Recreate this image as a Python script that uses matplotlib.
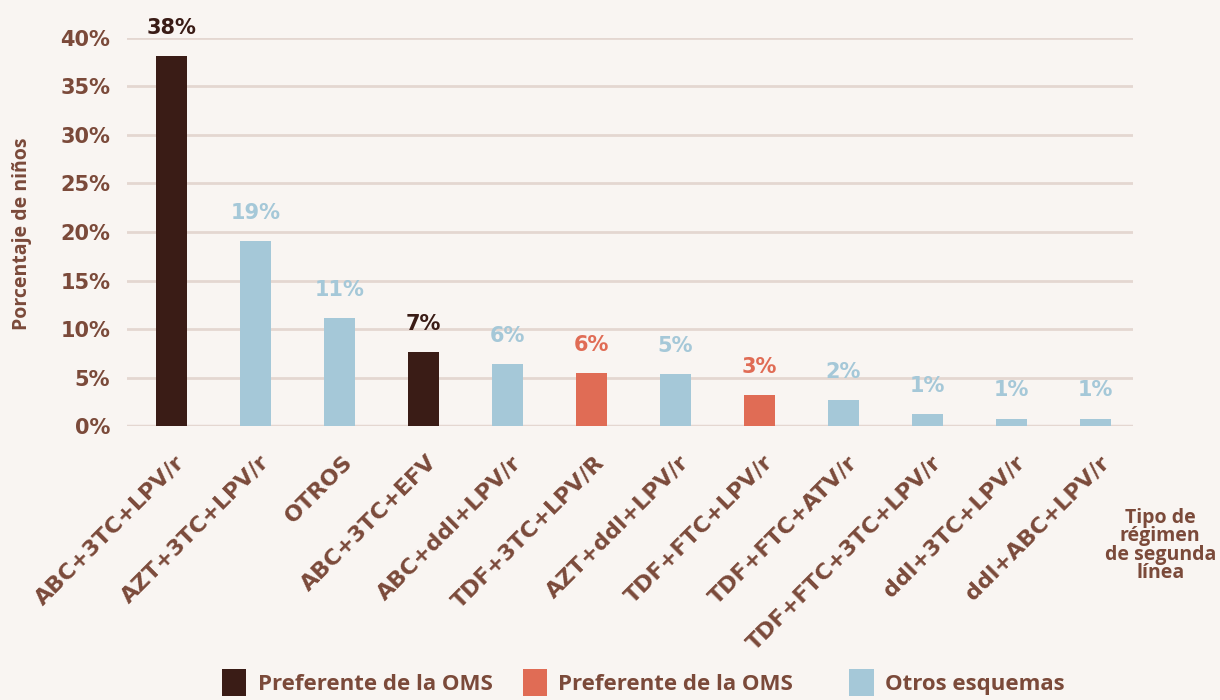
import matplotlib
matplotlib.use("Agg")
import matplotlib.pyplot as plt
import matplotlib.transforms as mtransforms
from matplotlib.patches import Patch

categories = ["ABC+3TC+LPV/r", "AZT+3TC+LPV/r", "OTROS", "ABC+3TC+EFV", "ABC+ddl+LPV/r",
              "TDF+3TC+LPV/R", "AZT+ddl+LPV/r", "TDF+FTC+LPV/r", "TDF+FTC+ATV/r",
              "TDF+FTC+3TC+LPV/r", "ddl+3TC+LPV/r", "ddl+ABC+LPV/r"]
values = [38.1, 19.1, 11.1, 7.6, 6.4, 5.5, 5.4, 3.2, 2.7, 1.3, 0.8, 0.8]
value_labels = ["38%", "19%", "11%", "7%", "6%", "6%", "5%", "3%", "2%", "1%", "1%", "1%"]
groups = [0, 2, 2, 0, 2, 1, 2, 1, 2, 2, 2, 2]
legend_labels = ["Preferente de la OMS", "Preferente de la OMS", "Otros esquemas"]
yticks = [0, 5, 10, 15, 20, 25, 30, 35, 40]

bar_colors = ["#3a1c16", "#e06c55", "#a5c8d8"]
label_colors = ["#3a1c16", "#e06c55", "#a5c8d8"]
brown = "#7b4a3a"
bg = "#f9f5f2"
grid = "#e4d7d1"

main_font = ["DejaVu Sans"]
narrow_font = ["Open Sans", "DejaVu Sans"]

fig = plt.figure(figsize=(12.2, 7.0), dpi=100, facecolor=bg)
ax = fig.add_axes([0.104, 0.391, 0.825, 0.555], facecolor=bg)

x = list(range(len(categories)))
ax.bar(x, values, width=0.36, color=[bar_colors[g] for g in groups], zorder=3)

for xi, v, lab, g in zip(x, values, value_labels, groups):
    ax.annotate(lab, (xi, v), xytext=(0, 13), textcoords="offset points",
                ha="center", va="bottom", fontsize=15, fontweight="bold",
                color=label_colors[g], family=main_font, annotation_clip=False)

ax.set_xlim(-0.53, 11.45)
ax.set_ylim(0, 40)
ax.set_yticks(yticks)
ax.set_yticklabels([f"{t}%" for t in yticks], fontsize=15, fontweight="bold",
                   color=brown, family=main_font)
for t in yticks:
    ax.axhline(t, color=grid, lw=2.5 if t == 0 else 2, zorder=1)
ax.tick_params(axis="y", length=0, pad=12)
ax.tick_params(axis="x", length=0, pad=12)
ax.set_xticks(x)
ax.set_xticklabels(categories, rotation=45, ha="right", va="top",
                   rotation_mode="anchor", fontsize=16, fontweight="bold",
                   color=brown, family=main_font)
shift = mtransforms.ScaledTranslation(3 / 100, -9 / 100, fig.dpi_scale_trans)
for lbl in ax.get_xticklabels():
    lbl.set_transform(lbl.get_transform() + shift)
for s in ax.spines.values():
    s.set_visible(False)

fig.text(0.018, 0.666, "Porcentaje de niños", rotation=90, ha="center", va="center",
         fontsize=14, fontweight="bold", color=brown, family=narrow_font)
fig.text(0.951, 0.221, "Tipo de\nrégimen\nde segunda\nlínea", ha="center", va="center",
         fontsize=14, fontweight="bold", color=brown, family=narrow_font, linespacing=0.9)

legend_x = [0.182, 0.4285, 0.696]
for lx, c, lab in zip(legend_x, bar_colors, legend_labels):
    fig.legend([Patch(facecolor=c, edgecolor="none")], [lab], loc="lower left",
               bbox_to_anchor=(lx, 0.006), frameon=False, borderpad=0, borderaxespad=0,
               handlelength=1.1, handleheight=1.5, handletextpad=0.5,
               prop={"family": narrow_font, "weight": "bold", "size": 16},
               labelcolor=brown)

fig.savefig("out.png", dpi=100, facecolor=bg)
